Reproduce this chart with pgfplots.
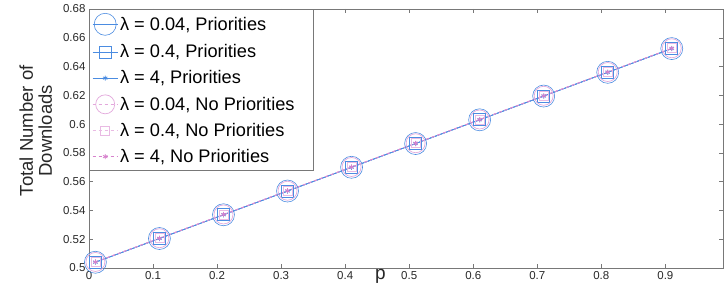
\documentclass[border=0pt]{standalone}
\usepackage{pgfplots}
\pgfplotsset{compat=1.18}
\usepackage{fontspec}
\setmainfont{Liberation Sans}
\usetikzlibrary{calc}
\definecolor{pblue}{RGB}{75,140,225}
\definecolor{ppink}{RGB}{215,130,205}
\definecolor{axgray}{RGB}{120,120,120}
\definecolor{txtgray}{RGB}{40,40,40}
\begin{document}
\begin{tikzpicture}
\begin{axis}[
  scale only axis,
  width=634bp, height=259bp,
  xmin=0, xmax=0.99, ymin=0.5, ymax=0.68,
  xtick={0,0.1,...,0.9},
  ytick={0.5,0.52,...,0.68},
  yticklabel style={/pgf/number format/fixed,/pgf/number format/precision=2},
  xticklabel style={/pgf/number format/fixed,/pgf/number format/precision=1},
  /pgf/number format/assume math mode=true,
  tick label style={font=\fontsize{11.5bp}{13bp}\selectfont, text=txtgray},
  tick align=inside,
  major tick length=4bp,
  axis line style={axgray, line width=0.8pt},
  every tick/.style={axgray},
  xlabel={p},
  xlabel style={at={(axis cs:0.455,0.5)}, anchor=north, inner sep=0pt, yshift=-1bp, font=\fontsize{19bp}{22bp}\selectfont, text=txtgray},
  ylabel={Total Number of\\Downloads},
  ylabel style={align=center, at={(axis description cs:-0.084,0.53)}, anchor=center, font=\fontsize{18.5bp}{19bp}\selectfont, text=txtgray},
  legend cell align=left,
  legend style={at={(0,1)}, anchor=north west, draw=axgray, line width=0.6pt,
    font=\fontsize{18.2bp}{22bp}\selectfont, inner xsep=3bp, inner ysep=4bp,
    row sep=7.4bp, text=black},
  legend image code/.code={
    \draw[mark repeat=2,mark phase=2,#1] plot coordinates {(0bp,0bp) (12.5bp,0bp) (25bp,0bp)};
  },
]
\addplot[pblue, line width=0.8pt, mark=o, mark size=11bp, mark options={solid, line width=0.6pt}] coordinates {
(0.01,0.5040) (0.11,0.5205) (0.21,0.5370) (0.31,0.5535) (0.41,0.5700) (0.51,0.5865) (0.61,0.6030) (0.71,0.6195) (0.81,0.6360) (0.91,0.6525)};
\addlegendentry{λ = 0.04, Priorities}
\addplot[pblue, line width=0.7pt, mark=square, mark size=6bp, mark options={solid, line width=0.6pt}] coordinates {
(0.01,0.5040) (0.11,0.5205) (0.21,0.5370) (0.31,0.5535) (0.41,0.5700) (0.51,0.5865) (0.61,0.6030) (0.71,0.6195) (0.81,0.6360) (0.91,0.6525)};
\addlegendentry{λ = 0.4, Priorities}
\addplot[pblue, line width=0.7pt, mark=asterisk, mark size=2.5bp, mark options={solid, line width=0.8pt}] coordinates {
(0.01,0.5040) (0.11,0.5205) (0.21,0.5370) (0.31,0.5535) (0.41,0.5700) (0.51,0.5865) (0.61,0.6030) (0.71,0.6195) (0.81,0.6360) (0.91,0.6525)};
\addlegendentry{λ = 4, Priorities}
\addplot[ppink!70, dashed, line width=0.8pt, mark=o, mark size=9.5bp, mark options={solid, line width=0.7pt}] coordinates {
(0.01,0.5042) (0.11,0.5207) (0.21,0.5372) (0.31,0.5537) (0.41,0.5702) (0.51,0.5867) (0.61,0.6032) (0.71,0.6197) (0.81,0.6362) (0.91,0.6527)};
\addlegendentry{λ = 0.04, No Priorities\rule{14bp}{0pt}}
\addplot[ppink!55, dashed, line width=0.7pt, mark=square, mark size=4.5bp, mark options={solid, line width=0.6pt}] coordinates {
(0.01,0.5042) (0.11,0.5207) (0.21,0.5372) (0.31,0.5537) (0.41,0.5702) (0.51,0.5867) (0.61,0.6032) (0.71,0.6197) (0.81,0.6362) (0.91,0.6527)};
\addlegendentry{λ = 0.4, No Priorities}
\addplot[ppink, dashed, line width=0.7pt, mark=asterisk, mark size=2.5bp, mark options={solid, line width=0.8pt}] coordinates {
(0.01,0.5042) (0.11,0.5207) (0.21,0.5372) (0.31,0.5537) (0.41,0.5702) (0.51,0.5867) (0.61,0.6032) (0.71,0.6197) (0.81,0.6362) (0.91,0.6527)};
\addlegendentry{λ = 4, No Priorities}
\end{axis}
\pgfresetboundingbox
\path[use as bounding box] ($(current axis.south west)+(-89bp,-19bp)$) rectangle ($(current axis.north east)+(4bp,9bp)$);
\end{tikzpicture}
\end{document}
